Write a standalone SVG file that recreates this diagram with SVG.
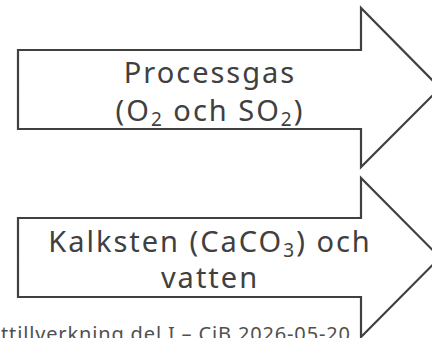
<svg xmlns="http://www.w3.org/2000/svg" width="432" height="338" viewBox="0 0 432 338">
<style>
.arrow{fill:#ffffff;stroke:#404040;stroke-width:2.2;stroke-linejoin:miter}
.lbl{font-family:"Noto Sans","Liberation Sans",sans-serif;font-size:29px;letter-spacing:2px;fill:#404040;text-anchor:middle}
.sub{font-size:19px}
.foot{font-family:"Noto Sans","Liberation Sans",sans-serif;font-size:20px;fill:#505050}
</style>
<rect width="432" height="338" fill="#ffffff"/>
<g id="arrow-processgas">
<path class="arrow" d="M18,50 L361,50 L361,8 L440,88 L361,167 L361,129 L18,129 Z"/>
<text class="lbl" x="210" y="83">Processgas</text>
<text class="lbl" x="210" y="121">(O<tspan class="sub" dy="5">2</tspan><tspan dy="-5"> och SO</tspan><tspan class="sub" dy="5">2</tspan><tspan dy="-5">)</tspan></text>
</g>
<g id="arrow-kalksten">
<path class="arrow" d="M18,218 L361,218 L361,178 L440,257.5 L361,337 L361,297 L18,297 Z"/>
<text class="lbl" x="210" y="252">Kalksten (CaCO<tspan class="sub" dy="5">3</tspan><tspan dy="-5">) och</tspan></text>
<text class="lbl" x="210" y="288">vatten</text>
</g>
<g id="connectors"/>
<text class="foot" x="1" y="341" textLength="349" lengthAdjust="spacing">ttillverkning del I – CiB 2026-05-20</text>
</svg>
